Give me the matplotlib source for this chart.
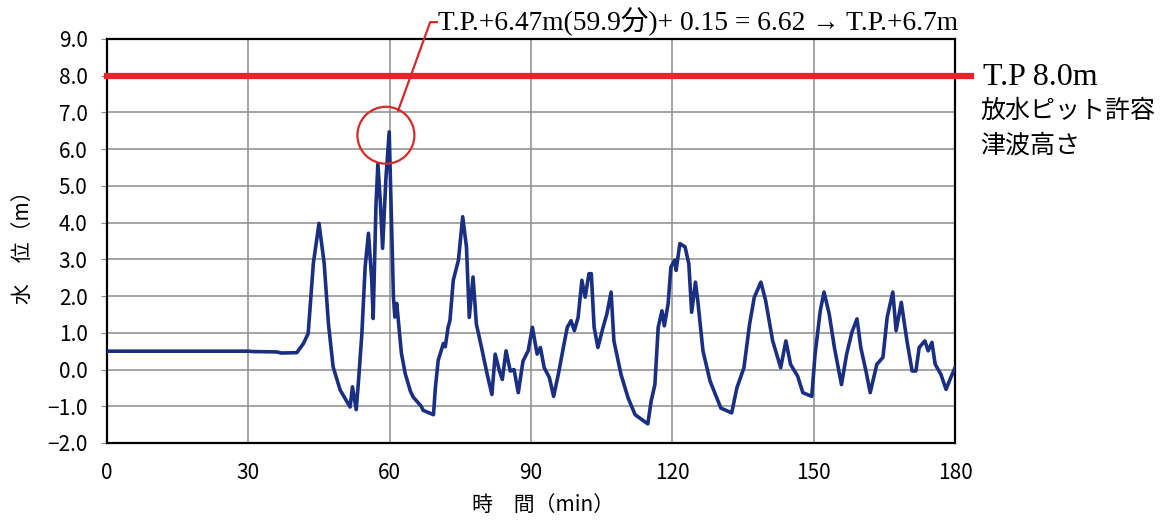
import matplotlib
matplotlib.use('Agg')
import matplotlib.pyplot as plt
from matplotlib.patches import Ellipse
from matplotlib.ticker import FuncFormatter

plt.rcParams['font.family'] = ['Noto Sans CJK JP', 'DejaVu Sans']

# Data
time_min = [0, 30, 31, 36, 37, 40.3, 41.7, 42.7, 43.8, 45.0, 46.1, 47.0, 48.0, 49.5,
            51.6, 52.1, 52.9, 53.4, 54.1, 54.8, 55.5, 56.2, 56.5, 57.1, 57.5, 58.0,
            58.5, 59.2, 59.9, 60.4, 60.8, 61.1, 61.5, 62.5, 63.3, 64.4, 65.0, 66.7,
            67.1, 69.3, 69.7, 70.3, 71.4, 71.8, 72.4, 72.8, 73.5, 74.6, 75.5, 76.3,
            76.9, 77.7, 78.4, 79.5, 80.7, 81.7, 82.4, 83.3, 83.9, 84.7, 85.6, 86.4,
            87.3, 88.3, 89.4, 90.3, 91.3, 92.0, 92.8, 93.9, 94.8, 95.8, 97.0, 97.7,
            98.5, 99.2, 100.0, 100.8, 101.5, 102.3, 102.8, 103.4, 104.2, 105.3, 106.1,
            107.0, 107.6, 109.1, 110.6, 112.1, 114.8, 115.5, 116.3, 117.0, 117.8,
            118.3, 119.1, 119.7, 120.5, 120.8, 121.6, 122.7, 123.5, 124.1, 124.9,
            125.4, 126.5, 128.0, 130.3, 132.6, 133.7, 135.2, 136.4, 137.4, 138.8,
            139.8, 141.3, 143.0, 144.1, 145.1, 146.6, 147.7, 149.6, 150.3, 151.4,
            152.2, 153.3, 154.4, 155.9, 157.0, 158.1, 159.2, 160.0, 161.1, 162.0,
            163.4, 164.7, 165.6, 166.8, 167.5, 168.6, 169.8, 170.9, 171.7, 172.4,
            173.6, 174.3, 175.1, 175.8, 177.0, 178.1, 179.1, 180.0]
water_level = [0.5, 0.5, 0.49, 0.48, 0.45, 0.46, 0.71, 0.98, 2.89, 3.98, 2.89, 1.25, 0.07, -0.56,
               -1.02, -0.47, -1.09, -0.29, 0.98, 2.80, 3.71, 2.43, 1.39, 4.5, 5.6, 4.6,
               3.30, 5.2, 6.47, 4.0, 1.98, 1.43, 1.8, 0.44, -0.11, -0.59, -0.75, -1.0,
               -1.11, -1.23, -0.5, 0.25, 0.71, 0.62, 1.15, 1.34, 2.43, 2.98, 4.16, 3.34,
               1.42, 2.52, 1.24, 0.6, -0.13, -0.68, 0.42, -0.04, -0.27, 0.51, -0.04, 0.0,
               -0.63, 0.23, 0.51, 1.15, 0.42, 0.6, 0.05, -0.22, -0.73, -0.13, 0.69, 1.15,
               1.33, 1.06, 1.42, 2.43, 1.97, 2.61, 2.61, 1.15, 0.6, 1.15, 1.51,
               2.11, 0.78, -0.13, -0.77, -1.23, -1.48, -0.86, -0.41, 1.15, 1.6,
               1.19, 1.79, 2.79, 2.98, 2.70, 3.43, 3.34, 2.88, 1.56, 2.38,
               1.88, 0.51, -0.31, -1.05, -1.18, -0.5, 0.05, 1.24, 1.97, 2.38,
               1.88, 0.78, 0.05, 0.78, 0.14, -0.18, -0.63, -0.73, 0.42, 1.6,
               2.11, 1.51, 0.6, -0.41, 0.42, 1.01, 1.38, 0.6, -0.04, -0.63,
               0.14, 0.33, 1.42, 2.11, 1.06, 1.83, 0.78, -0.04, -0.04, 0.6,
               0.78, 0.51, 0.74, 0.14, -0.13, -0.54, -0.22, 0.05]

allowable_height = 8.0
x_ticks = [0, 30, 60, 90, 120, 150, 180]
y_ticks = [-2, -1, 0, 1, 2, 3, 4, 5, 6, 7, 8, 9]

fig = plt.figure(figsize=(11.68, 5.21), dpi=100)
ax = fig.add_axes([107 / 1168, 1 - 443 / 521, 848 / 1168, 404 / 521])

ax.plot(time_min, water_level, color='#1a2f82', linewidth=2.6, zorder=3,
        solid_joinstyle='round')
ax.plot([0, 183.3], [allowable_height, allowable_height], color='#e8242a',
        linewidth=4.5, clip_on=False, zorder=4)

ax.set_xlim(0, 180)
ax.set_ylim(-2, 9)
ax.set_xticks(x_ticks)
ax.set_yticks(y_ticks)
ax.yaxis.set_major_formatter(FuncFormatter(lambda v, p: f'{v:.1f}'.replace('-', '\u2212')))
ax.grid(True, color='#8c8c8c', linewidth=1.1)
ax.set_axisbelow(True)
for s in ax.spines.values():
    s.set_linewidth(1.6)
    s.set_color('black')
ax.tick_params(axis='y', length=4, color='#8c8c8c', pad=10, labelsize=15)
ax.tick_params(axis='x', length=0, pad=14, labelsize=15)

# peak marker circle + leader line
ax.add_patch(Ellipse((59.2, 6.38), 12.1, 1.55, fill=False, edgecolor='#d42a2a',
                     linewidth=1.6, zorder=5))
ax.plot([61.8, 68.6, 70.0], [7.05, 9.46, 9.46], color='#d42a2a', linewidth=1.6,
        clip_on=False, zorder=5)
ax.text(70.2, 9.46, 'T.P.+6.47m(59.9分)+ 0.15 = 6.62 → T.P.+6.7m',
        family=['Liberation Serif', 'Noto Sans CJK JP'], fontsize=19.8,
        va='center', ha='left', clip_on=False)

# right-hand label for the red line
fig.text(983 / 1168, 1 - 78 / 521, 'T.P 8.0m', family=['Liberation Serif'],
         fontsize=23, va='center', ha='left')
fig.text(980 / 1168, 1 - 111 / 521, '放水ピット許容', fontsize=18, va='center', ha='left')
fig.text(980 / 1168, 1 - 146 / 521, '津波高さ', fontsize=18, va='center', ha='left')

fig.text(23 / 1168, 1 - 242 / 521, '水　位（m）', fontsize=15, rotation=90,
         va='center', ha='center')
fig.text(543 / 1168, 1 - 505 / 521, '時　間（min）', fontsize=15, va='center', ha='center')

plt.savefig('out.png', dpi=100)
